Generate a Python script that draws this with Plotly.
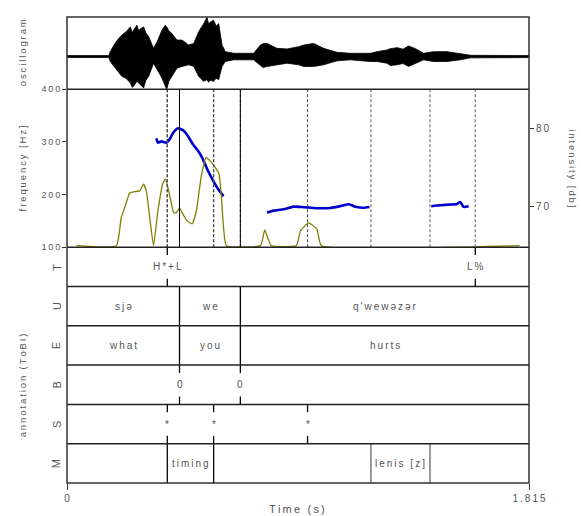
import plotly.graph_objects as go

T_END = 1.815

# ---------------- data ----------------
# oscillogram envelope (amplitude units above / below baseline)
osc_t = [0, 0.164, 0.170, 0.190, 0.203, 0.215, 0.232, 0.249, 0.256, 0.262, 0.275, 0.282, 0.288,
         0.301, 0.310, 0.321, 0.340, 0.354, 0.373, 0.386, 0.392, 0.400, 0.412, 0.432, 0.452,
         0.465, 0.478, 0.498, 0.517, 0.537, 0.550, 0.556, 0.563, 0.576, 0.586, 0.596, 0.609,
         0.622, 0.655, 0.733, 0.760, 0.770, 0.786, 0.825, 0.864, 0.910, 0.930, 0.969, 1.008,
         1.061, 1.113, 1.192, 1.218, 1.257, 1.270, 1.297, 1.320, 1.342, 1.369, 1.401, 1.440,
         1.493, 1.545, 1.585, 1.815]
osc_upper = [1, 1, 5, 14, 18.3, 21.7, 25, 30, 24, 27, 31.7, 26, 28,
             30, 24, 20, 8.3, 15, 26.7, 31.7, 30, 26, 23.3, 16.7, 16.7,
             14, 11.7, 13.3, 25, 33.3, 40, 33, 35, 36.7, 31, 33.3, 11.7,
             5, 3.3, 3.3, 11.7, 13, 13.3, 8.3, 7.7, 10, 11.7, 13.3, 8.3,
             4.3, 3.3, 3.3, 5, 6.7, 8, 9, 7.5, 10.7, 8, 3.3, 5,
             5, 3.3, 1.3, 1]
osc_lower = [1, 1, 5, 12, 16.7, 20, 22, 26.7, 31, 30, 25, 27, 28,
             31.7, 24, 20, 6.7, 13.3, 21.7, 30, 33, 25, 20, 11.7, 10,
             9, 8.3, 10, 20, 25, 23.3, 26, 24, 25, 22, 23.3, 10,
             5, 3.3, 3.3, 8.3, 11, 10, 8.3, 6.7, 8.3, 10, 10, 8.3,
             4.3, 3.3, 5, 5, 6.7, 9, 8.3, 7, 10, 6.7, 3.3, 5,
             5, 3.3, 1.3, 1]

# pitch contour (Hz), three voiced stretches
pitch_t1 = [0.351, 0.357, 0.371, 0.390, 0.403, 0.4165, 0.436, 0.456, 0.475, 0.495, 0.515,
            0.534, 0.554, 0.574, 0.593, 0.615]
pitch_hz1 = [306.6, 298.6, 301, 298.6, 304.8, 317, 326, 322, 311, 295, 283,
             267, 245, 226.6, 211, 197]
pitch_t2 = [0.786, 0.812, 0.851, 0.890, 0.930, 0.982, 1.035, 1.074, 1.107, 1.133, 1.165, 1.188]
pitch_hz2 = [165.8, 169.5, 172, 177, 176, 174, 174.6, 178, 181.5, 177, 175, 176.5]
pitch_t3 = [1.431, 1.467, 1.506, 1.532, 1.545, 1.558, 1.578]
pitch_hz3 = [177.8, 179.6, 181, 182, 186, 176.5, 177.8]

# intensity (dB)
int_t = [0.037, 0.194, 0.213, 0.226, 0.246, 0.266, 0.285, 0.301, 0.312, 0.325, 0.340, 0.357,
         0.377, 0.387, 0.403, 0.419, 0.429, 0.442, 0.456, 0.471, 0.492, 0.508, 0.528, 0.547,
         0.563, 0.580, 0.597, 0.606, 0.615, 0.626, 0.760, 0.777, 0.802, 0.901, 0.917, 0.949,
         0.982, 0.999, 1.778]
int_db = [65, 65, 68.6, 69.8, 71.7, 71.9, 72.0, 72.85, 71.9, 68.6, 65, 69.4,
          73.0, 73.5, 71.5, 69.2, 69.2, 69.8, 69.0, 68.2, 67.8, 69.4, 74.0, 76.3,
          75.8, 75.1, 74.2, 71.5, 67.3, 65, 65, 67.0, 65, 65, 66.9, 67.9,
          67.1, 65, 65]

# axis ticks
freq_ticks = [100, 200, 300, 400]
int_ticks = [70, 80]
time_ticks = [0, T_END]

# ToBI tiers
tier_names = ["T", "U", "E", "B", "S", "M"]
T_points = [0.394, 1.604]
T_labels = ["H*+L", "L%"]
U_bounds = [0.442, 0.681]
U_labels = ["sjə", "we", "q'wewəzər"]
E_bounds = [0.442, 0.681]
E_labels = ["what", "you", "hurts"]
B_points = [0.442, 0.681]
B_labels = ["0", "0"]
S_points = [0.394, 0.576, 0.945]
S_labels = ["*", "*", "*"]
M_bounds = [0.394, 0.576, 1.194, 1.426]
M_labels = ["", "timing", "", "lenis [z]", ""]

# ---------------- layout constants ----------------
FONT = "Liberation Sans, Arial, sans-serif"
TXT = "#555555"
OSC_BOTTOM = 0.845
PITCH_BOTTOM = 0.506


def spaced(s):
    # letter-spaced look of the original: thin space between characters
    return "\u2009".join(s)


fig = go.Figure()

# oscillogram
fig.add_trace(go.Scatter(x=osc_t, y=osc_upper, mode="lines", line=dict(color="black", width=0.8),
                         xaxis="x", yaxis="y", hoverinfo="skip", showlegend=False))
fig.add_trace(go.Scatter(x=osc_t, y=[-v for v in osc_lower], mode="lines",
                         line=dict(color="black", width=0.8), fill="tonexty", fillcolor="black",
                         xaxis="x", yaxis="y", hoverinfo="skip", showlegend=False))

# intensity (right axis)
fig.add_trace(go.Scatter(x=int_t, y=int_db, mode="lines",
                         line=dict(color="#808000", width=1.3, shape="spline", smoothing=0.4),
                         xaxis="x", yaxis="y3", showlegend=False))

# pitch
for pt, ph in [(pitch_t1, pitch_hz1), (pitch_t2, pitch_hz2), (pitch_t3, pitch_hz3)]:
    fig.add_trace(go.Scatter(x=pt, y=ph, mode="lines",
                             line=dict(color="#0000cc", width=2.6, shape="spline", smoothing=0.5),
                             xaxis="x", yaxis="y2", showlegend=False))

shapes = []
annotations = []

# vertical marks in the pitch panel, one style per tier
mark_styles = [
    (T_points, dict(color="#8a8a8a", width=1.4, dash="3px,2px")),
    (M_bounds, dict(color="#8a8a8a", width=1.4, dash="3px,2px")),
    (S_points, dict(color="#333333", width=0.9, dash="3px,2px")),
    (B_points, dict(color="#333333", width=1.0, dash="3px,2px")),
    (U_bounds, dict(color="black", width=1.0)),
]
for pts, st in mark_styles:
    for t in pts:
        shapes.append(dict(type="line", xref="x", yref="paper", x0=t, x1=t,
                           y0=PITCH_BOTTOM, y1=OSC_BOTTOM, line=st, layer="above"))

# tiers: tier k (0 = top) spans y4 in [5-k, 6-k]
tiers = [
    ("point", T_points, T_labels),
    ("interval", U_bounds, U_labels),
    ("interval", E_bounds, E_labels),
    ("point", B_points, B_labels),
    ("point", S_points, S_labels),
    ("interval", M_bounds, M_labels),
]
tier_font = dict(family=FONT, size=10, color=TXT)
for k, (kind, marks, labels) in enumerate(tiers):
    lo, hi = 5 - k, 6 - k
    mid = (lo + hi) / 2
    if kind == "interval":
        for t in marks:
            c = "#666666" if (k == 5 and t > 1.0) else "black"
            shapes.append(dict(type="line", xref="x", yref="y4", x0=t, x1=t, y0=lo, y1=hi,
                               line=dict(color=c, width=1.3)))
        edges = [0] + marks + [T_END]
        for a, b, lab in zip(edges[:-1], edges[1:], labels):
            if lab:
                annotations.append(dict(x=(a + b) / 2, y=mid, xref="x", yref="y4", text=spaced(lab),
                                        xanchor="center", yanchor="middle", showarrow=False,
                                        font=tier_font))
    else:
        for t, lab in zip(marks, labels):
            shapes.append(dict(type="line", xref="x", yref="y4", x0=t, x1=t, y0=hi - 0.2, y1=hi,
                               line=dict(color="black", width=1.3)))
            shapes.append(dict(type="line", xref="x", yref="y4", x0=t, x1=t, y0=lo, y1=lo + 0.2,
                               line=dict(color="black", width=1.3)))
            annotations.append(dict(x=t, y=mid, xref="x", yref="y4", text=spaced(lab),
                                    xanchor="center", yanchor="middle", showarrow=False,
                                    font=tier_font))
    annotations.append(dict(x=-0.022, y=mid, xref="paper", yref="y4", text=tier_names[k],
                            xanchor="center", yanchor="middle", textangle=-90, showarrow=False,
                            font=dict(family=FONT, size=11, color=TXT)))
    if k > 0:
        shapes.append(dict(type="line", xref="paper", yref="y4", x0=0, x1=1, y0=hi, y1=hi,
                           line=dict(color="#222222", width=1.5)))

# panel separators and outer frame
for yp in [OSC_BOTTOM, PITCH_BOTTOM]:
    shapes.append(dict(type="line", xref="paper", yref="paper", x0=0, x1=1, y0=yp, y1=yp,
                       line=dict(color="#222222", width=1.5)))
shapes.append(dict(type="rect", xref="paper", yref="paper", x0=0, x1=1, y0=0, y1=1,
                   line=dict(color="#333333", width=1.5)))

# axis titles
title_font = dict(family=FONT, size=9.5, color=TXT)
common = dict(xref="paper", yref="paper", showarrow=False, xanchor="center", yanchor="middle")
annotations += [
    dict(x=-0.097, y=(1 + OSC_BOTTOM) / 2, text=spaced("oscillogram"), textangle=-90,
         font=title_font, **common),
    dict(x=-0.097, y=(OSC_BOTTOM + PITCH_BOTTOM) / 2, text=spaced("frequency [Hz]"),
         textangle=-90, font=title_font, **common),
    dict(x=-0.097, y=0.21, text=spaced("annotation (ToBI)"), textangle=-90,
         font=title_font, **common),
    dict(x=1.095, y=(OSC_BOTTOM + PITCH_BOTTOM) / 2, text=spaced("intensity [db]"),
         textangle=90, font=title_font, **common),
    dict(x=0.498, y=-0.055, text=spaced("Time (s)"),
         font=dict(family=FONT, size=11, color=TXT), **common),
]

fig.update_layout(
    width=581, height=516,
    margin=dict(l=67, r=52, t=13, b=32),
    paper_bgcolor="white", plot_bgcolor="white",
    showlegend=False,
    xaxis=dict(domain=[0, 1], range=[0, T_END], anchor="y4", showgrid=False, zeroline=False,
               showline=False, tickvals=time_ticks, ticktext=[spaced(f"{v:g}") for v in time_ticks],
               ticks="outside", ticklen=6, tickcolor="#333",
               tickfont=dict(family=FONT, size=10, color=TXT)),
    yaxis=dict(domain=[OSC_BOTTOM, 1], range=[-33, 40], visible=False, fixedrange=True),
    yaxis2=dict(domain=[PITCH_BOTTOM, OSC_BOTTOM], range=[100, 400], anchor="x", showgrid=False,
                zeroline=False, showline=False, tickvals=freq_ticks,
                ticktext=[spaced(str(v)) for v in freq_ticks], ticks="outside", ticklen=4,
                tickcolor="#333", tickfont=dict(family=FONT, size=9, color=TXT)),
    yaxis3=dict(overlaying="y2", side="right", anchor="x", range=[64.8, 85], showgrid=False,
                zeroline=False, showline=False, tickvals=int_ticks,
                ticktext=[spaced(str(v)) for v in int_ticks], ticks="outside", ticklen=4,
                tickcolor="#333", tickfont=dict(family=FONT, size=10, color=TXT)),
    yaxis4=dict(domain=[0, PITCH_BOTTOM], range=[0, 6], anchor="x", visible=False),
    shapes=shapes,
    annotations=annotations,
)

# remove the browser's default 8px body margin so the 581x516 figure fills the window exactly
fig.write_html("out.html", config={"displayModeBar": False},
               post_script="document.body.style.margin='0';document.body.style.overflow='hidden';")
